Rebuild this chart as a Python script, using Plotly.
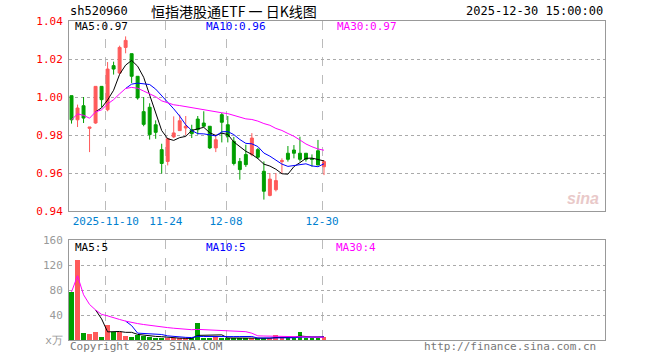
import plotly.graph_objects as go
import pandas as pd

# ---------------- data ----------------
dates = [d.strftime("%Y-%m-%d") for d in pd.bdate_range("2025-10-31", "2025-12-30")]

open_ = [1.0007, 0.9880, 0.9954, 0.9835, 0.9863, 1.0056, 0.9933, 1.0165, 1.0126, 1.0261,
         1.0228, 1.0109, 0.9923, 0.9946, 0.9854, 0.9723, 0.9661, 0.9790, 0.9823, 0.9837,
         0.9828, 0.9884, 0.9863, 0.9846, 0.9732, 0.9907, 0.9854, 0.9767, 0.9661, 0.9697,
         0.9697, 0.9723, 0.9609, 0.9482, 0.9512, 0.9660, 0.9704, 0.9721, 0.9704, 0.9704,
         0.9675, 0.9717, 0.9633]
high = [1.0007, 0.9960, 1.0000, 0.9842, 1.0056, 1.0056, 1.0184, 1.0186, 1.0270, 1.0319,
        1.0228, 1.0109, 1.0000, 0.9967, 0.9877, 0.9754, 0.9784, 0.9898, 0.9907, 0.9900,
        0.9854, 0.9900, 0.9925, 0.9846, 0.9802, 0.9916, 0.9900, 0.9790, 0.9679, 0.9749,
        0.9810, 0.9732, 0.9661, 0.9600, 0.9600, 0.9677, 0.9742, 0.9747, 0.9791, 0.9704,
        0.9698, 0.9774, 0.9668]
low = [0.9860, 0.9842, 0.9863, 0.9710, 0.9859, 0.9947, 0.9925, 1.0118, 1.0122, 1.0230,
       1.0074, 0.9986, 0.9846, 0.9776, 0.9780, 0.9597, 0.9640, 0.9784, 0.9823, 0.9800,
       0.9784, 0.9802, 0.9842, 0.9726, 0.9710, 0.9761, 0.9761, 0.9640, 0.9565, 0.9632,
       0.9688, 0.9674, 0.9460, 0.9477, 0.9503, 0.9598, 0.9660, 0.9677, 0.9660, 0.9660,
       0.9633, 0.9642, 0.9589]
close = [0.9880, 0.9942, 0.9889, 0.9842, 1.0056, 0.9986, 1.0147, 1.0147, 1.0261, 1.0298,
         1.0109, 0.9995, 0.9856, 0.9802, 0.9814, 0.9650, 0.9781, 0.9811, 0.9875, 0.9846,
         0.9807, 0.9828, 0.9846, 0.9732, 0.9775, 0.9867, 0.9793, 0.9650, 0.9618, 0.9644,
         0.9784, 0.9683, 0.9504, 0.9568, 0.9560, 0.9665, 0.9672, 0.9704, 0.9672, 0.9672,
         0.9672, 0.9642, 0.9660]
volume = [77.0, 128.5, 11.7, 10.1, 13.3, 5.3, 24.5, 12.3, 12.8, 6.4,
          5.3, 8.0, 6.5, 5.0, 4.0, 3.0, 3.0, 2.5, 2.5, 2.5,
          2.0, 27.5, 4.0, 2.5, 4.5, 2.5, 3.0, 3.5, 3.0, 2.5,
          3.5, 2.0, 3.0, 3.0, 8.5, 4.0, 3.0, 3.0, 13.0, 3.0,
          2.5, 2.5, 5.0]

tick_dates = ["2025-11-10", "2025-11-24", "2025-12-08", "2025-12-30"]
tick_labels = ["2025-11-10", "11-24", "12-08", "12-30"]
price_ticks = [0.94, 0.96, 0.98, 1.00, 1.02, 1.04]
vol_ticks = [0, 40, 80, 120, 160]
vol_tick_labels = ["x万", "40", "80", "120", "160"]

# ---------------- styling ----------------
W, H = 660, 360
RED = "#FF5A5A"
GREEN = "#009F00"
MONO = "DejaVu Sans Mono"

x = list(range(len(dates)))
c = pd.Series(close)
v = pd.Series(volume)
ma5, ma10, ma30 = c.rolling(5).mean(), c.rolling(10).mean(), c.rolling(30, min_periods=1).mean()
vma5, vma10, vma30 = v.rolling(5).mean(), v.rolling(10).mean(), v.rolling(30, min_periods=1).mean()
bar_colors = [RED if cl >= op else GREEN for op, cl in zip(open_, close)]

fig = go.Figure()
fig.add_trace(go.Candlestick(
    x=x, open=open_, high=high, low=low, close=close,
    increasing=dict(line=dict(color=RED, width=1), fillcolor=RED),
    decreasing=dict(line=dict(color=GREEN, width=1), fillcolor=GREEN),
    whiskerwidth=0, xaxis="x", yaxis="y", showlegend=False, hoverinfo="skip"))
for s, col in [(ma5, "black"), (ma10, "#0000FF"), (ma30, "#FF00FF")]:
    fig.add_trace(go.Scatter(x=x, y=s, mode="lines", line=dict(color=col, width=1),
                             xaxis="x", yaxis="y", showlegend=False, hoverinfo="skip"))
fig.add_trace(go.Bar(x=x, y=volume, marker=dict(color=bar_colors, line=dict(width=0)),
                     width=0.8, xaxis="x2", yaxis="y2", showlegend=False, hoverinfo="skip"))
for s, col in [(vma5, "black"), (vma10, "#0000FF"), (vma30, "#FF00FF")]:
    fig.add_trace(go.Scatter(x=x, y=s, mode="lines", line=dict(color=col, width=1),
                             xaxis="x2", yaxis="y2", showlegend=False, hoverinfo="skip"))

tickpos = [dates.index(d) - 0.3 for d in tick_dates]
xdom = [69 / W, 605 / W]
xrange_ = [-0.42, 88.75]
common_x = dict(domain=xdom, range=xrange_, tickvals=tickpos, showgrid=True,
                gridcolor="#BBBBBB", griddash="dash", gridwidth=1, zeroline=False,
                showline=True, mirror=True, linecolor="#999999", linewidth=1, ticks="",
                automargin=False)
common_y = dict(showgrid=True, gridcolor="#AAAAAA", griddash="dot", gridwidth=1,
                zeroline=False, showline=True, mirror=True, linecolor="#999999",
                linewidth=1, ticks="", ticklabelstandoff=3, automargin=False)

fig.update_layout(
    width=W, height=H, margin=dict(l=0, r=0, t=0, b=0, autoexpand=False),
    paper_bgcolor="white", plot_bgcolor="white", bargap=0,
    xaxis=dict(**common_x, anchor="y", ticktext=tick_labels,
               tickfont=dict(family=MONO, size=11, color="#0080D0"),
               rangeslider=dict(visible=False)),
    yaxis=dict(**common_y, domain=[1 - 211 / H, 1 - 21 / H], range=[0.94, 1.04],
               tickvals=price_ticks, ticktext=[f"{t:.2f}" for t in price_ticks],
               tickfont=dict(family=MONO, size=11, color="#FF0000")),
    xaxis2=dict(**common_x, anchor="y2", showticklabels=False),
    yaxis2=dict(**common_y, domain=[1 - 340 / H, 1 - 240 / H], range=[0, 160],
                tickvals=vol_ticks, ticktext=vol_tick_labels,
                tickfont=dict(family=MONO, size=11, color="#999999")),
)


def txt(t, px, py, color="black", size=11, anchor="left", family=MONO):
    fig.add_annotation(text=t, x=px / W, y=1 - py / H, xref="paper", yref="paper",
                       xanchor=anchor, yanchor="middle", showarrow=False,
                       font=dict(family=family, size=size, color=color))


txt("sh520960", 68, 11, size=12)
txt("恒指港股通ETF 一 日K线图", 234, 11, size=14, anchor="center", family="Noto Sans CJK SC")
txt("2025-12-30 15:00:00", 605, 11, size=12, anchor="right")
txt("MA5:0.97", 73, 27)
txt("MA10:0.96", 204, 27, color="#0000FF")
txt("MA30:0.97", 335, 27, color="#FF00FF")
txt("MA5:5", 73, 247)
txt("MA10:5", 204, 247, color="#0000FF")
txt("MA30:4", 334, 247, color="#FF00FF")
txt("Copyright 2025 SINA.COM", 68, 346, color="#777777")
txt("http://finance.sina.com.cn", 598, 346, color="#777777", anchor="right")
txt("<b><i>sina</i></b>", 583, 198, color="#E9C9C9", size=16, anchor="center", family="Liberation Sans")

fig.write_html("out.html", config={"displayModeBar": False},
               post_script="document.body.style.margin='0';document.body.style.overflow='hidden';")
